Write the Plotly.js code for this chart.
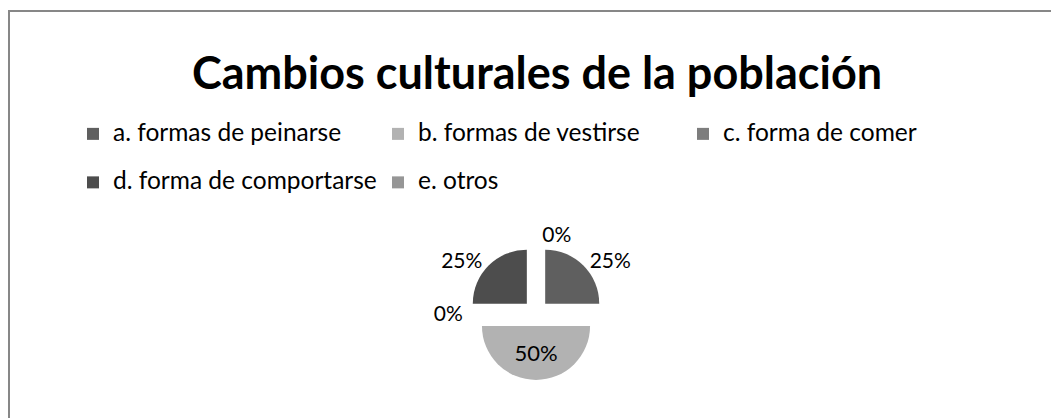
<!DOCTYPE html>
<html>
<head>
<meta charset="utf-8">
<script src="https://cdn.plot.ly/plotly-3.0.1.min.js"></script>
<style>html,body{margin:0;padding:0;background:#fff;}#chart{width:1051px;height:418px;}path.textline{display:none;}</style>
</head>
<body>
<div id="chart"></div>
<script>
var categories = ["a. formas de peinarse", "b. formas de vestirse", "c. forma de comer", "d. forma de comportarse", "e. otros"];
var values = [25, 50, 0, 25, 0];
var colors = ["#5f5f5f", "#b2b2b2", "#7d7d7d", "#4d4d4d", "#969696"];
var textPositions = ["outside", "inside", "outside", "outside", "outside"];
var chartTitle = "Cambios culturales de la población";

var FONT = "Lato, 'Liberation Sans', sans-serif";
var W = 1051, H = 418;

var trace = {
  type: "pie",
  labels: categories.map(function (c) {
    return '<span style="font-size:24.5px">' + c + '</span><br>\u00a0';
  }),
  values: values,
  sort: false,
  direction: "clockwise",
  rotation: 0,
  marker: { colors: colors, line: { width: 0 } },
  pull: values.map(function () { return 0.24; }),
  textinfo: "percent",
  textposition: textPositions,
  insidetextfont: { family: FONT, size: 22, color: "#000" },
  outsidetextfont: { family: FONT, size: 21, color: "#000" },
  domain: { x: [0.40, 0.62], y: [0.091, 0.4117] },
  hoverinfo: "percent",
  showlegend: true
};

var layout = {
  width: W,
  height: H,
  margin: { l: 0, r: 0, t: 0, b: 0 },
  paper_bgcolor: "#fff",
  font: { family: FONT, color: "#000" },
  title: {
    text: "<b>" + chartTitle + "</b>",
    font: { family: FONT, size: 45, color: "#000" },
    x: 0.511, xanchor: "center",
    y: (H - 73) / H, yanchor: "middle"
  },
  legend: {
    orientation: "h",
    x: 73 / W, xanchor: "left",
    y: (H - 116) / H, yanchor: "top",
    entrywidth: 260,
    entrywidthmode: "pixels",
    valign: "top",
    font: { family: FONT, size: 17.5, color: "#000" },
    bgcolor: "rgba(0,0,0,0)"
  },
  shapes: [{
    type: "rect", xref: "paper", yref: "paper",
    x0: 9 / W, x1: 1.05, y0: -0.05, y1: (H - 11) / H,
    line: { color: "#878787", width: 2 }, fillcolor: "rgba(0,0,0,0)", layer: "below"
  }]
};

Plotly.newPlot("chart", [trace], layout, { displayModeBar: false, staticPlot: true });
</script>
</body>
</html>
